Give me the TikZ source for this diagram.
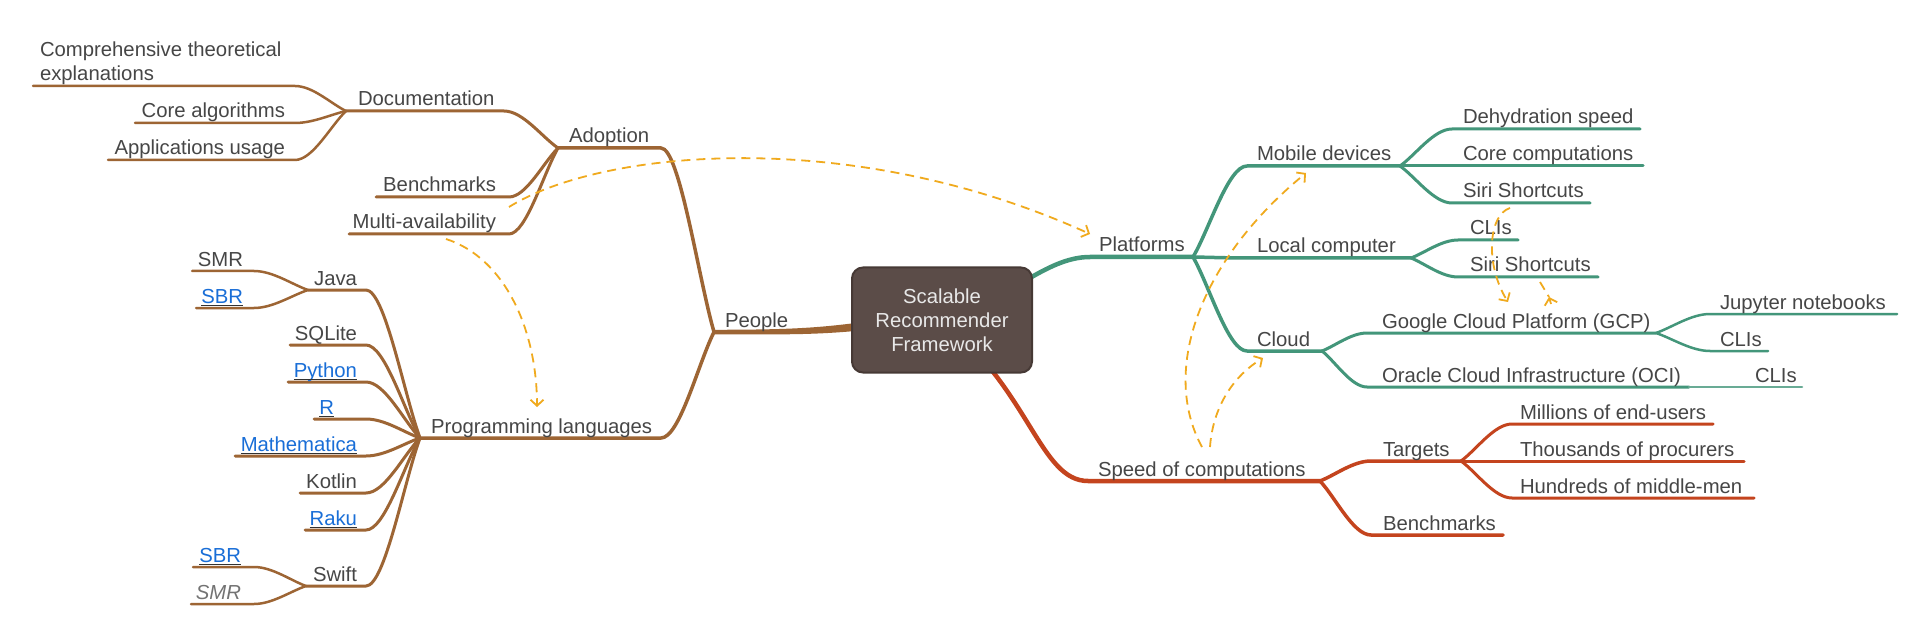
\documentclass[tikz,border=0pt]{standalone}
\usepackage{fontspec}
\setmainfont{Liberation Sans}
\usetikzlibrary{arrows.meta,calc}
\definecolor{brn}{RGB}{157,101,52}
\definecolor{grn}{RGB}{67,150,122}
\definecolor{rdc}{RGB}{196,68,30}
\definecolor{dsh}{RGB}{240,170,30}
\definecolor{txt}{RGB}{70,70,70}
\definecolor{lnk}{RGB}{25,110,215}
\definecolor{ulc}{RGB}{50,50,50}
\definecolor{rootf}{RGB}{91,76,72}
\definecolor{rootd}{RGB}{70,57,53}
\newcommand\lblfont{\fontsize{20.3}{23.5}\selectfont}
\begin{document}
\begin{tikzpicture}[x=1pt,y=-1pt,
  lab/.style={inner sep=0pt, outer sep=0pt, text=txt, font=\lblfont},
  lk/.style={lab, text=lnk},
  ul/.style={draw=ulc, line width=1.6pt},
  fan/.style={to path={.. controls ($(\tikztostart)!0.3!(\tikztotarget)$) and ($(\tikztotarget)!0.35!(\tikztostart |- \tikztotarget)$) .. (\tikztotarget) \tikztonodes}},
  brline/.style={draw=brn, line cap=round, line join=round},
  grline/.style={draw=grn, line cap=round, line join=round},
  rdline/.style={draw=rdc, line cap=round, line join=round},
  L1/.style={line width=4.5pt},
  L2/.style={line width=3.5pt},
  L3/.style={line width=3pt},
  L4/.style={line width=2.5pt},
  xline/.style={draw=dsh, line width=1.8pt, dash pattern=on 9pt off 6pt},
  xarr/.style={xline, -{Straight Barb[length=6pt,width=13pt,line width=1.8pt]}},
  xtip/.style={draw=dsh, line width=1.8pt, -{Straight Barb[length=6pt,width=13pt,line width=1.8pt]}},
  rootbox/.style={fill=rootf, draw=rootd, line width=2pt, rounded corners=11pt, minimum width=180pt, minimum height=105pt, text=white!91!black, align=center, font=\lblfont, inner sep=0pt}
]
\fill[white] (0,0) rectangle (1931,639);
\useasboundingbox (0,0) rectangle (1931,639);

% ---------- coordinates of branch lines ----------
\coordinate (peoH) at (714,332);
\coordinate (adoS) at (661,148); \coordinate (adoH) at (558,148);
\coordinate (docS) at (504,111); \coordinate (docH) at (346,111);
\coordinate (cteS) at (295,86);  \coordinate (cteE) at (33,86);
\coordinate (calS) at (295,123); \coordinate (calE) at (135,123);
\coordinate (appS) at (295,160); \coordinate (appE) at (108,160);
\coordinate (bm1S) at (509,197); \coordinate (bm1E) at (376,197);
\coordinate (mulS) at (509,234); \coordinate (mulE) at (349,234);
\coordinate (plS) at (661,438);  \coordinate (plH) at (420,438);
\coordinate (javS) at (366,290); \coordinate (javH) at (308,290);
\coordinate (smr1S) at (254,271); \coordinate (smr1E) at (192,271);
\coordinate (sbr1S) at (254,308); \coordinate (sbr1E) at (196,308);
\coordinate (sqlS) at (366,345); \coordinate (sqlE) at (290,345);
\coordinate (pyS) at (366,382);  \coordinate (pyE) at (288,382);
\coordinate (rS) at (366,419);   \coordinate (rE) at (314,419);
\coordinate (matS) at (366,456); \coordinate (matE) at (235,456);
\coordinate (kotS) at (366,493); \coordinate (kotE) at (300,493);
\coordinate (rakS) at (366,530); \coordinate (rakE) at (305,530);
\coordinate (swiS) at (366,586); \coordinate (swiH) at (306,586);
\coordinate (sbr2S) at (254,567); \coordinate (sbr2E) at (193,567);
\coordinate (smr2S) at (254,604); \coordinate (smr2E) at (191,604);

\coordinate (plaS) at (1090,257); \coordinate (plaH) at (1193,257);
\coordinate (mobS) at (1247,166); \coordinate (mobH) at (1400,166);
\coordinate (dehS) at (1452,129); \coordinate (dehE) at (1640,129);
\coordinate (ccS) at (1452,166);  \coordinate (ccE) at (1643,166);
\coordinate (si1S) at (1452,203); \coordinate (si1E) at (1590,203);
\coordinate (locS) at (1247,258); \coordinate (locH) at (1411,258);
\coordinate (cl1S) at (1458,240); \coordinate (cl1E) at (1518,240);
\coordinate (si2S) at (1458,277); \coordinate (si2E) at (1598,277);
\coordinate (cloS) at (1247,351); \coordinate (cloH) at (1322,351);
\coordinate (gcpS) at (1367,333); \coordinate (gcpH) at (1656,333);
\coordinate (ociS) at (1367,387); \coordinate (ociH) at (1689,387);
\coordinate (jupS) at (1710,314); \coordinate (jupE) at (1897,314);
\coordinate (cl2S) at (1710,351); \coordinate (cl2E) at (1768,351);
\coordinate (cl3E) at (1802,387);
\coordinate (spdS) at (1088,481); \coordinate (spdH) at (1320,481);
\coordinate (tarS) at (1371,461); \coordinate (tarH) at (1461,461);
\coordinate (bm2S) at (1371,535); \coordinate (bm2E) at (1503,535);
\coordinate (milS) at (1512,424); \coordinate (milE) at (1713,424);
\coordinate (thoS) at (1512,461); \coordinate (thoE) at (1744,461);
\coordinate (hunS) at (1512,498); \coordinate (hunE) at (1754,498);

% ---------- root anchor point ----------
\coordinate (root) at (942,320);

% ---------- brown branches ----------
% tapered main branch from the root box to People
\fill[brn] ([yshift=2.2pt]peoH) .. controls (780,329.6) and (815,329) .. (870,321)
  -- (870,329.5) .. controls (815,335.5) and (780,334.3) .. ([yshift=-2.3pt]peoH) -- cycle;
\draw[brline, L2] (peoH) to[fan] (adoS) -- (adoH);
\draw[brline, L2] (peoH) to[fan] (plS) -- (plH);
\draw[brline, L3] (adoH) to[fan] (docS) -- (docH);
\draw[brline, L3] (adoH) to[fan] (bm1S) -- (bm1E);
\draw[brline, L3] (adoH) to[fan] (mulS) -- (mulE);
\draw[brline, L4] (docH) to[fan] (cteS) -- (cteE);
\draw[brline, L4] (docH) to[fan] (calS) -- (calE);
\draw[brline, L4] (docH) to[fan] (appS) -- (appE);
\foreach \k/\e in {jav/javH, sql/sqlE, py/pyE, r/rE, mat/matE, kot/kotE, rak/rakE, swi/swiH}
  \draw[brline, L3] (plH) to[fan] (\k S) -- (\e);
\draw[brline, L4] (javH) to[fan] (smr1S) -- (smr1E);
\draw[brline, L4] (javH) to[fan] (sbr1S) -- (sbr1E);
\draw[brline, L4] (swiH) to[fan] (sbr2S) -- (sbr2E);
\draw[brline, L4] (swiH) to[fan] (smr2S) -- (smr2E);

% ---------- green branches ----------
\draw[grline, L1] (root) .. controls (1010,300) and (1045,257) .. (plaS) -- (plaH);
\draw[grline, L2] (plaH) to[fan] (mobS) -- (mobH);
\draw[grline, L2] (plaH) to[fan] (locS) -- (locH);
\draw[grline, L2] (plaH) to[fan] (cloS) -- (cloH);
\draw[grline, L3] (mobH) to[fan] (dehS) -- (dehE);
\draw[grline, L3] (mobH) to[fan] (ccS) -- (ccE);
\draw[grline, L3] (mobH) to[fan] (si1S) -- (si1E);
\draw[grline, L3] (locH) to[fan] (cl1S) -- (cl1E);
\draw[grline, L3] (locH) to[fan] (si2S) -- (si2E);
\draw[grline, L3] (cloH) to[fan] (gcpS) -- (gcpH);
\draw[grline, L3] (cloH) to[fan] (ociS) -- (ociH);
\draw[grline, L4] (gcpH) to[fan] (jupS) -- (jupE);
\draw[grline, L4] (gcpH) to[fan] (cl2S) -- (cl2E);
\draw[grline, L4, draw=grn!80!white] (ociH) -- (cl3E);

% ---------- red branches ----------
\draw[rdline, L1] (root) .. controls (1030,390) and (1040,481) .. (spdS) -- (spdH);
\draw[rdline, L2] (spdH) to[fan] (tarS) -- (tarH);
\draw[rdline, L2] (spdH) to[fan] (bm2S) -- (bm2E);
\draw[rdline, L3] (tarH) to[fan] (milS) -- (milE);
\draw[rdline, L3] (tarH) to[fan] (thoS) -- (thoE);
\draw[rdline, L3] (tarH) to[fan] (hunS) -- (hunE);

% ---------- root box on top ----------
\node[rootbox] (rootbox) at (root) {Scalable\\[0.6pt]Recommender\\[0.6pt]Framework};

% ---------- labels, left ----------
\node[lab, anchor=base west] (peo) at (725,327) {People};
\node[lab, anchor=base west] (ado) at (569,143) {Adoption};
\node[lab, anchor=base west] (doc) at (358,106) {Documentation};
\node[lab, anchor=north west, align=left] (cte) at (40,42) {Comprehensive theoretical\\explanations};
\node[lab, anchor=base east] (cal) at (285,118) {Core algorithms};
\node[lab, anchor=base east] (app) at (285,155) {Applications usage};
\node[lab, anchor=base east] (bm1) at (496,192) {Benchmarks};
\node[lab, anchor=base east] (mul) at (496,229) {Multi-availability};
\node[lab, anchor=base west] (pl) at (431,433) {Programming languages};
\node[lab, anchor=base east] (jav) at (357,285) {Java};
\node[lab, anchor=base east] (smr1) at (243,266) {SMR};
\node[lk, anchor=base east] (sbr1) at (243,303) {SBR};
\node[lab, anchor=base east] (sql) at (357,340) {SQLite};
\node[lk, anchor=base east] (py) at (357,377) {Python};
\node[lk, anchor=base east] (rl) at (334,414) {R};
\node[lk, anchor=base east] (mat) at (357,451) {Mathematica};
\node[lab, anchor=base east] (kot) at (357,488) {Kotlin};
\node[lk, anchor=base east] (rak) at (357,525) {Raku};
\node[lab, anchor=base east] (swi) at (357,581) {Swift};
\node[lk, anchor=base east] (sbr2) at (241,562) {SBR};
\node[lab, anchor=base east, text=black!55, font=\lblfont\itshape] (smr2) at (241,599) {SMR};
\foreach \n in {sbr1, py, rl, mat, rak, sbr2}
  \draw[ul] ([yshift=-2.5pt]\n.base west) -- ([yshift=-2.5pt]\n.base east);

% ---------- labels, right ----------
\node[lab, anchor=base west] (pla) at (1099,252) {Platforms};
\node[lab, anchor=base west] (mob) at (1257,161) {Mobile devices};
\node[lab, anchor=base west] (deh) at (1463,124) {Dehydration speed};
\node[lab, anchor=base west] (cc) at (1463,161) {Core computations};
\node[lab, anchor=base west] (si1) at (1463,198) {Siri Shortcuts};
\node[lab, anchor=base west] (loc) at (1257,253) {Local computer};
\node[lab, anchor=base west] (cl1) at (1470,235) {CLIs};
\node[lab, anchor=base west] (si2) at (1470,272) {Siri Shortcuts};
\node[lab, anchor=base west] (clo) at (1257,346) {Cloud};
\node[lab, anchor=base west] (gcp) at (1382,328) {Google Cloud Platform (GCP)};
\node[lab, anchor=base west] (oci) at (1382,382) {Oracle Cloud Infrastructure (OCI)};
\node[lab, anchor=base west] (jup) at (1720,309) {Jupyter notebooks};
\node[lab, anchor=base west] (cl2) at (1720,346) {CLIs};
\node[lab, anchor=base west] (cl3) at (1755,382) {CLIs};
\node[lab, anchor=base west] (spd) at (1098,476) {Speed of computations};
\node[lab, anchor=base west] (tar) at (1383,456) {Targets};
\node[lab, anchor=base west] (bm2) at (1383,530) {Benchmarks};
\node[lab, anchor=base west] (mil) at (1520,419) {Millions of end-users};
\node[lab, anchor=base west] (tho) at (1520,456) {Thousands of procurers};
\node[lab, anchor=base west] (hun) at (1520,493) {Hundreds of middle-men};

% ---------- dashed cross connections ----------
\draw[xarr] ([shift={(13,-22)}]mul.base east) .. controls (600,150) and (850,125) .. ([shift={(-9,-18)}]pla.base west);
\draw[xarr] ([shift={(-50,10)}]mul.base east) .. controls (505,258) and (537,330) .. ([shift={(106,-26)}]pl.base west);
\draw[xarr] ([shift={(104,-29)}]spd.base west) .. controls (1160,370) and (1200,260) .. ([shift={(49,12)}]mob.base west);
\draw[xarr] ([shift={(112,-29)}]spd.base west) .. controls (1213,405) and (1235,375) .. ([shift={(6,12)}]clo.base west);
\draw[xarr] ([shift={(47,10)}]si1.base west) .. controls (1488,215) and (1485,265) .. ([shift={(126,-26)}]gcp.base west);
\draw[xline] ([shift={(70,10)}]si2.base west) -- ([shift={(167,-31)}]gcp.base west);
\draw[xtip] ([shift={(169,-24)}]gcp.base west) -- ([shift={(167,-31)}]gcp.base west);
\end{tikzpicture}
\end{document}
